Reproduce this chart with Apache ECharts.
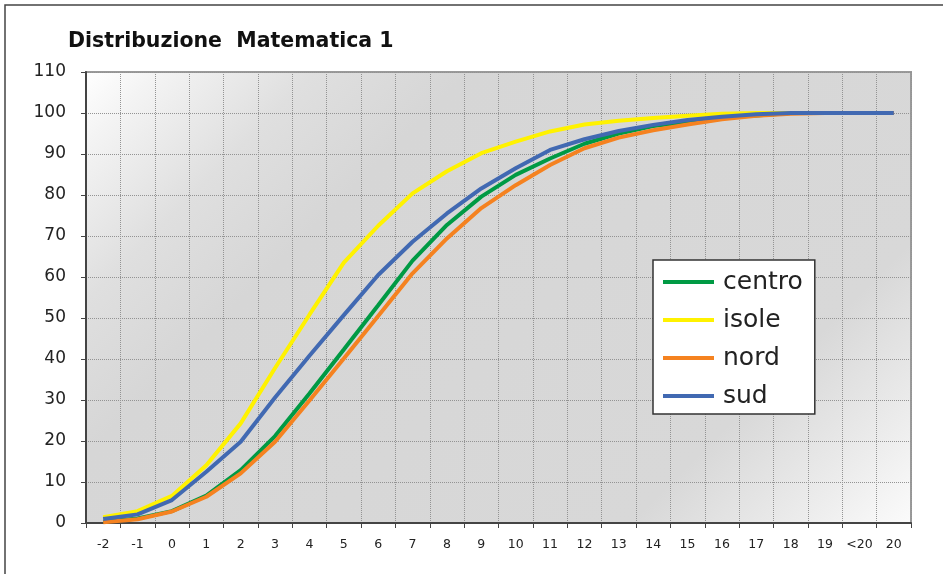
<!DOCTYPE html>
<html>
  <head>
    <meta charset="utf-8" />
    <title>Distribuzione Matematica 1</title>
    <script src="https://cdn.jsdelivr.net/npm/echarts@6/dist/echarts.min.js"></script>
  </head>
  <body style="margin:0;padding:0;background:#fff;">
    <div id="chart" style="width:943px;height:574px;"></div>
    <script type="text/javascript">
      // punteggi (categorie asse x)
      var categories = ['-2', '-1', '0', '1', '2', '3', '4', '5', '6', '7', '8', '9', '10',
        '11', '12', '13', '14', '15', '16', '17', '18', '19', '<20', '20'];

      // percentuali cumulate per area
      var centro = [0.3, 1.1, 2.9, 6.7, 12.9, 21.2, 31.6, 42.3, 53.1, 64.0, 72.7, 79.6, 84.9,
        88.9, 92.5, 95.0, 96.8, 97.8, 98.9, 99.4, 100, 100, 100, 100];
      var isole = [1.4, 2.9, 6.6, 14.1, 24.3, 37.8, 50.8, 63.5, 72.5, 80.4, 85.8, 90.2, 93.0,
        95.5, 97.2, 98.1, 98.8, 99.3, 99.8, 100, 100, 100, 100, 100];
      var nord = [0.2, 0.9, 2.8, 6.4, 12.1, 19.8, 29.9, 40.1, 50.5, 60.9, 69.4, 76.8, 82.4,
        87.3, 91.4, 94.0, 95.8, 97.2, 98.5, 99.3, 99.8, 100, 100, 100];
      var sud = [1.0, 2.1, 5.6, 12.5, 19.8, 30.6, 40.8, 50.7, 60.5, 68.6, 75.5, 81.6, 86.5,
        91.0, 93.6, 95.6, 97.1, 98.3, 99.1, 99.7, 100, 100, 100, 100];

      var myChart = echarts.init(document.getElementById('chart'), null, { renderer: 'canvas' });

      function line(name, data, color) {
        return {
          name: name,
          type: 'line',
          data: data,
          showSymbol: false,
          symbol: 'none',
          lineStyle: { width: 4, color: color },
          itemStyle: { color: color }
        };
      }

      // sfondo area grafico: grigio, schiarito negli angoli alto-sx e basso-dx (diagonale 45°)
      var plotBg = new echarts.graphic.LinearGradient(86, 72, 724, 710, [
        { offset: 0, color: '#ffffff' },
        { offset: 0.06, color: '#f3f3f3' },
        { offset: 0.18, color: '#dfdfdf' },
        { offset: 0.3, color: '#d6d6d6' },
        { offset: 0.78, color: '#d8d8d8' },
        { offset: 0.91, color: '#ececec' },
        { offset: 1, color: '#fbfbfb' }
      ], true);

      myChart.setOption({
        animation: false,
        textStyle: { fontFamily: 'DejaVu Sans, sans-serif' },
        graphic: [{
          type: 'rect',
          shape: { x: 5, y: 5, width: 950, height: 590 },
          style: { fill: null, stroke: '#444', lineWidth: 1.5 },
          silent: true
        }],
        title: {
          text: 'Distribuzione  Matematica 1',
          left: 63,
          top: 26,
          textStyle: { fontSize: 20.5, fontWeight: 'bold', color: '#111', fontFamily: 'DejaVu Sans' }
        },
        grid: {
          left: 86,
          right: 32,
          top: 72,
          bottom: 51,
          show: true,
          borderColor: '#9a9a9a',
          borderWidth: 2,
          backgroundColor: plotBg
        },
        legend: {
          orient: 'vertical',
          left: 653,
          top: 260,
          backgroundColor: '#fff',
          borderColor: '#333',
          borderWidth: 1.5,
          padding: [9, 12, 5, 10],
          itemGap: 12,
          itemWidth: 51,
          itemHeight: 4,
          icon: 'rect',
          textStyle: { fontSize: 25, color: '#222', lineHeight: 26, padding: [0, 0, 0, 4] },
          data: ['centro', 'isole', 'nord', 'sud']
        },
        xAxis: {
          type: 'category',
          data: categories,
          boundaryGap: true,
          axisLine: { lineStyle: { color: '#444', width: 2 } },
          axisTick: { show: true, length: 5, lineStyle: { color: '#444' } },
          axisLabel: { fontSize: 12.5, color: '#222', margin: 15, interval: 0 },
          splitLine: { show: true, interval: 0, lineStyle: { type: 'dotted', color: '#939393', width: 1 } }
        },
        yAxis: {
          type: 'value',
          min: 0,
          max: 110,
          interval: 10,
          axisLine: { show: true, lineStyle: { color: '#444', width: 2 } },
          axisTick: { show: true, length: 5, lineStyle: { color: '#444' } },
          axisLabel: { fontSize: 17, color: '#222', margin: 20 },
          splitLine: { show: true, lineStyle: { type: 'dotted', color: '#939393', width: 1 } }
        },
        series: [
          line('centro', centro, '#009a44'),
          line('isole', isole, '#fff200'),
          line('nord', nord, '#f58220'),
          line('sud', sud, '#4169b2')
        ]
      });
    </script>
  </body>
</html>
